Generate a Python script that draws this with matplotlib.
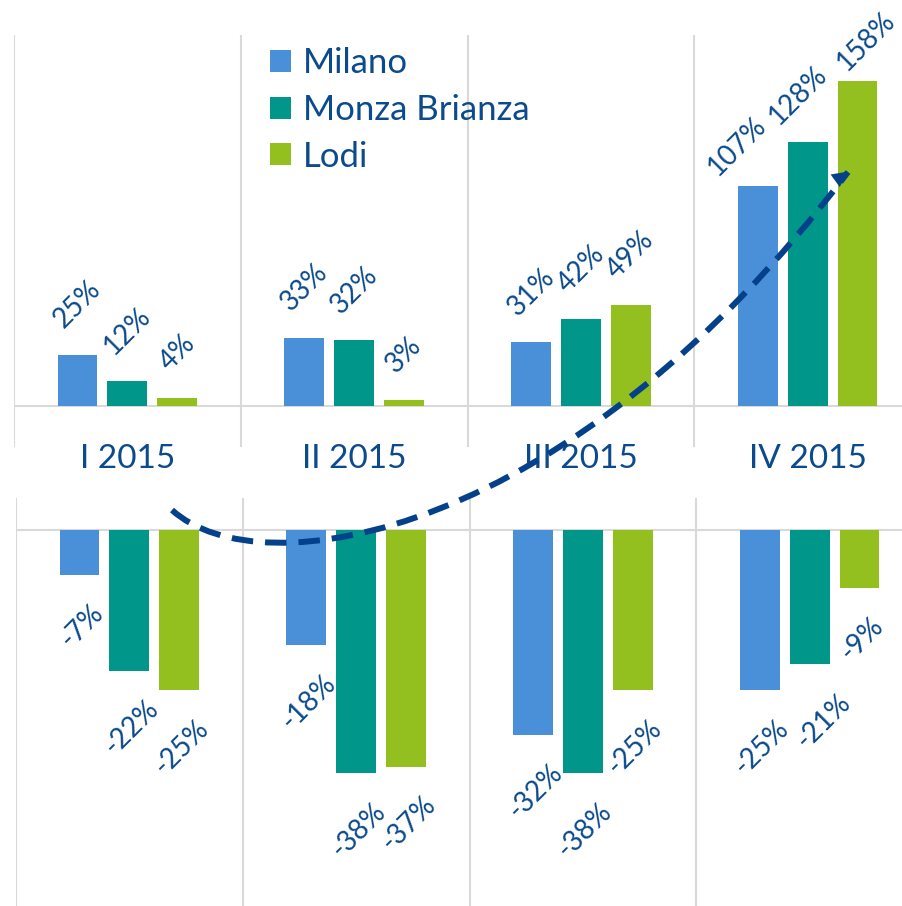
import matplotlib
matplotlib.use("Agg")
import matplotlib.pyplot as plt
import numpy as np
from matplotlib.path import Path
from matplotlib.patches import PathPatch, FancyArrowPatch

plt.rcParams['font.family'] = ['Lato', 'DejaVu Sans']

quarters = ['I 2015', 'II 2015', 'III 2015', 'IV 2015']
series = ['Milano', 'Monza Brianza', 'Lodi']
positive = {
    'Milano': [25, 33, 31, 107],
    'Monza Brianza': [12, 32, 42, 128],
    'Lodi': [4, 3, 49, 158],
}
negative = {
    'Milano': [-7, -18, -32, -25],
    'Monza Brianza': [-22, -38, -38, -21],
    'Lodi': [-25, -37, -25, -9],
}
colors = {'Milano': '#4A90D9', 'Monza Brianza': '#00968A', 'Lodi': '#93BF1F'}
text_col = '#0B4A8C'
grid_col = '#D9D9D9'

W, H = 903, 906
fig = plt.figure(figsize=(W / 100, H / 100), dpi=100)

ax_top = fig.add_axes([14 / W, (H - 447) / H, 907 / W, 412 / H])
ax_bot = fig.add_axes([16 / W, 0, 907 / W, 408 / H])

x = np.arange(len(quarters))
step = 0.22
width = 0.176

# label nudges (in px) where labels are crowded
nudge = {('top', 3, 0): (-21, -17), ('top', 3, 1): (-10, -9), ('top', 3, 2): (8, -17),
         ('bot', 3, 1): (12, 0)}

for name, ax, data, ylim in [('top', ax_top, positive, (-19.9, 180.1)),
                             ('bot', ax_bot, negative, (-58.75, 5.0))]:
    for k, s in enumerate(series):
        pos = x + (k - 1) * step
        ax.bar(pos, data[s], width=width, color=colors[s], label=s, zorder=2)
        for i, (p, v) in enumerate(zip(pos, data[s])):
            dx, dy = nudge.get((name, i, k), (0, 0))
            if v >= 0:
                ax.annotate(f'{v}%', (p, v), xytext=(dx * 0.72, (22 + dy) * 0.72),
                            textcoords='offset points', ha='center', va='bottom',
                            rotation=45, fontsize=20, color=text_col)
            else:
                ax.annotate(f'{v}%', (p, v), xytext=((2 + dx) * 0.72, -(25 + dy) * 0.72),
                            textcoords='offset points', ha='center', va='top',
                            rotation=45, fontsize=20, color=text_col)
    for b in np.arange(-0.5, len(quarters), 1.0):
        ax.axvline(b, color=grid_col, lw=1.5, zorder=1)
    ax.axhline(0, color=grid_col, lw=1.5, zorder=1)
    ax.set_xlim(-0.5, len(quarters) - 0.5)
    ax.set_ylim(*ylim)
    ax.set_axis_off()

for i, q in enumerate(quarters):
    ax_top.text(i, -0.051, q, transform=ax_top.get_xaxis_transform(),
                ha='center', va='baseline', fontsize=24, color=text_col)

leg = ax_top.legend(loc='upper left', bbox_to_anchor=(253 / W, (H - 30) / H),
                    bbox_transform=fig.transFigure, frameon=False, fontsize=25,
                    handlelength=0.6, handleheight=0.6, handletextpad=0.35,
                    labelspacing=0.42, borderpad=0)
for t in leg.get_texts():
    t.set_color(text_col)

# dashed trend arrow
arrow_col = '#04418A'
pts = [(172, 510), (260, 590), (570, 540), (848, 172)]
verts = [(px / W, (H - py) / H) for px, py in pts]
path = Path(verts, [Path.MOVETO, Path.CURVE4, Path.CURVE4, Path.CURVE4])
fig.add_artist(PathPatch(path, transform=fig.transFigure, fill=False,
                         edgecolor=arrow_col, lw=4.3, linestyle=(0, (3.6, 2.0)),
                         capstyle='butt'))
fig.add_artist(FancyArrowPatch(
    ((840 - 12) / W, (H - 172 - 14) / H), (850 / W, (H - 170) / H),
    transform=fig.transFigure, arrowstyle='-|>', mutation_scale=28,
    color=arrow_col, lw=0))

fig.savefig('out.png', dpi=100)
